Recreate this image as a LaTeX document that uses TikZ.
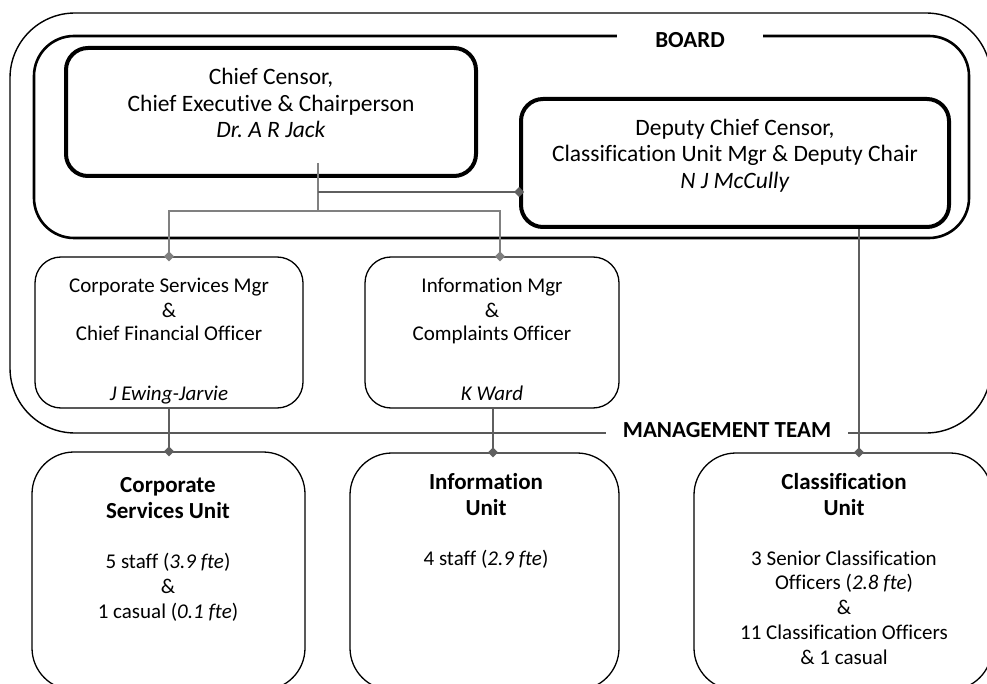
\documentclass[tikz,border=0pt]{standalone}
\usepackage{fontspec}
\setmainfont{Carlito}[Ligatures=NoCommon]
\frenchspacing
\usetikzlibrary{arrows.meta}
\definecolor{connA}{RGB}{128,128,128}
\definecolor{connB}{RGB}{95,95,95}
\begin{document}
\begin{tikzpicture}[x=1pt,y=-1pt,
  boxbig/.style={draw=black, line width=4pt, rounded corners=22pt, inner sep=0pt, minimum width=#1},
  boxmgr/.style={draw=black, line width=1.3pt, rounded corners=26pt, inner sep=0pt},
  boxunit/.style={draw=black, line width=1.3pt, rounded corners=42pt, inner sep=0pt},
  boardbox/.style={draw=black, line width=2.6pt, rounded corners=40pt, inner sep=0pt},
  mgmtbox/.style={draw=black, line width=1.4pt, rounded corners=65pt, inner sep=0pt},
  tbig/.style={font=\fontsize{23.5}{26.5}\selectfont, align=center, inner sep=0pt, anchor=base},
  tmgr/.style={font=\fontsize{21}{24}\selectfont, align=center, inner sep=0pt, anchor=base},
  ttitle/.style={font=\fontsize{23}{26.5}\selectfont\bfseries, align=center, inner sep=0pt, anchor=base},
  tbody/.style={font=\fontsize{21}{24.8}\selectfont, align=center, inner sep=0pt, anchor=base},
  glabel/.style={font=\fontsize{23}{26}\selectfont\bfseries, fill=white, inner ysep=4pt},
  cA/.style={draw=connA, line width=1.4pt},
  cB/.style={draw=connB, line width=1.8pt},
  dtip/.style={-{Diamond[length=10pt,width=10pt]}, shorten >=-5pt},
]
\useasboundingbox (0,0) rectangle (987,684);
\clip (0,0) rectangle (987,684);
\fill[white] (0,0) rectangle (987,684);

% frames
\node[mgmtbox, minimum width=981pt, minimum height=420pt] (mgmt) at (500.5,223) {};
\node[boardbox, minimum width=935pt, minimum height=202pt] (board) at (501.5,137) {};

% board members
\node[boxbig=410pt, minimum height=128pt] (chief) at (271,112) {};
\node[boxbig=428pt, minimum height=128pt] (deputy) at (735,163) {};

% managers
\node[boxmgr, minimum width=268pt, minimum height=151pt] (corpmgr) at (169,332.5) {};
\node[boxmgr, minimum width=254pt, minimum height=151pt] (infomgr) at (492,332.5) {};

% units
\node[boxunit, minimum width=273pt, minimum height=238pt] (corpunit) at (168.5,571) {};
\node[boxunit, minimum width=269pt, minimum height=237pt] (infounit) at (484.5,571.5) {};
\node[boxunit, minimum width=298pt, minimum height=237pt] (classunit) at (843,571.5) {};

% connectors
\coordinate (cj) at (318,163);
\coordinate (cj1) at (318,192);
\coordinate (cj2) at (318,211);
\draw[cA] (cj) -- (cj2);
\draw[cB, dtip] (cj1) -- (cj1 -| deputy.west);
\draw[cA, dtip] (cj2) -| (corpmgr.north);
\draw[cA, dtip] (cj2) -| ([xshift=8pt]infomgr.north);
\draw[cB, dtip] (corpmgr.south) -- (corpmgr.south |- corpunit.north);
\draw[cB, dtip] ([xshift=1pt]infomgr.south) -- ([xshift=1pt]infomgr.south |- infounit.north);
\draw[cB, dtip] ([xshift=124pt]deputy.south) -- ([xshift=124pt]deputy.south |- classunit.north);

% group labels
\node[glabel, inner xsep=38pt] (boardlabel) at (690,40) {BOARD};
\node[glabel, inner xsep=17pt] (mgmtlabel) at (727,430) {MANAGEMENT TEAM};

% texts (anchor base = baseline of last line)
\node[tbig] (chieft) at (271,138) {Chief Censor,\\Chief Executive \& Chairperson\\\textit{Dr. A R Jack}};
\node[tbig] (deputyt) at (735,188.5) {Deputy Chief Censor,\\Classification Unit Mgr \& Deputy Chair\\\textit{N J McCully}};

\node[tmgr] (corpmgrt) at (169,341) {Corporate Services Mgr\\\&\\Chief Financial Officer};
\node[tmgr] (corpmgrn) at (169,400) {\textit{J Ewing-Jarvie}};
\node[tmgr] (infomgrt) at (492,341) {Information Mgr\\\&\\Complaints Officer};
\node[tmgr] (infomgrn) at (492,400) {\textit{K Ward}};

\node[ttitle] (corpunitt) at (168,518.5) {Corporate\\Services Unit};
\node[tbody] (corpunitb) at (168,618) {5 staff (\textit{3.9 fte})\\\&\\1 casual (\textit{0.1 fte})};
\node[ttitle] (infounitt) at (486,515.5) {Information\\Unit};
\node[tbody] (infounitb) at (486,565) {4 staff (\textit{2.9 fte})};
\node[ttitle] (classunitt) at (844,515.5) {Classification\\Unit};
\node[tbody] (classunitb) at (844,664.2) {3 Senior Classification\\Officers (\textit{2.8 fte})\\\&\\11 Classification Officers\\\& 1 casual};
\end{tikzpicture}
\end{document}
